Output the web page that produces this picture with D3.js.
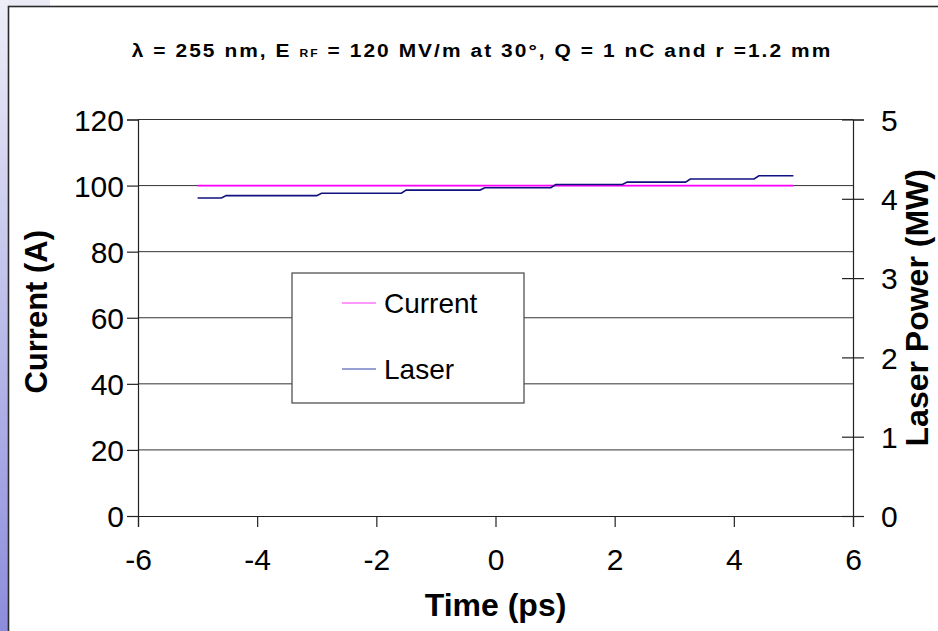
<!DOCTYPE html>
<html>
<head>
<meta charset="utf-8">
<script src="https://cdn.jsdelivr.net/npm/d3@7/dist/d3.min.js"></script>
<style>
  html, body { margin: 0; padding: 0; background: #fff; }
  svg { display: block; }
  text { font-family: "Liberation Sans", Arial, sans-serif; fill: #000; }
</style>
</head>
<body>
<svg id="chart" width="938" height="631"></svg>
<script>
// Beam current (A) against time (ps)
const currentTime = [-5, 5];
const currentValues = [100, 100];

// Laser power (MW) against time (ps): a slowly rising staircase
const laserTime = [-5.00, -4.60, -4.52, -3.00, -2.92, -1.58, -1.50, -0.26, -0.18,
                   0.93, 1.01, 2.13, 2.21, 3.19, 3.27, 4.34, 4.42, 5.00];
const laserValues = [4.01, 4.01, 4.04, 4.04, 4.07, 4.07, 4.11, 4.11, 4.14,
                     4.14, 4.18, 4.18, 4.21, 4.21, 4.25, 4.25, 4.29, 4.29];

const xTicks = [-6, -4, -2, 0, 2, 4, 6];
const yLeftTicks = [0, 20, 40, 60, 80, 100, 120];
const yRightTicks = [0, 1, 2, 3, 4, 5];
const seriesNames = ["Current", "Laser"];
const seriesColors = ["#ff00ff", "#101080"];

const svg = d3.select("#chart");

// slide-style frame with a shaded left edge
const defs = svg.append("defs");
const grad = defs.append("linearGradient").attr("id", "edge")
  .attr("x1", 0).attr("y1", 0).attr("x2", 0).attr("y2", 1);
grad.append("stop").attr("offset", "0%").attr("stop-color", "#eeeef8");
grad.append("stop").attr("offset", "100%").attr("stop-color", "#8c8cdc");
svg.append("rect").attr("x", 0).attr("y", 0).attr("width", 50).attr("height", 6).attr("fill", "#ebebf6");
svg.append("rect").attr("x", 0).attr("y", 0).attr("width", 8).attr("height", 631).attr("fill", "url(#edge)");
svg.append("rect").attr("x", 8.5).attr("y", 6.5).attr("width", 1000).attr("height", 1000)
  .attr("fill", "#fff").attr("stroke", "#2a2a2a").attr("stroke-width", 1.6);

const plotLeft = 138, plotRight = 853, plotTop = 119.5, plotBottom = 516;
const x = d3.scaleLinear().domain([-6, 6]).range([plotLeft, plotRight]);
const yL = d3.scaleLinear().domain([0, 120]).range([plotBottom, plotTop]);
const yR = d3.scaleLinear().domain([0, 5]).range([plotBottom, plotTop]);
const plain = d => String(d);

// horizontal gridlines
svg.append("g").selectAll("line").data(yLeftTicks.filter(d => d > 0)).join("line")
  .attr("x1", plotLeft).attr("x2", plotRight)
  .attr("y1", d => yL(d)).attr("y2", d => yL(d))
  .attr("stroke", "#333").attr("stroke-width", 1);

// x axis
const gx = svg.append("g").attr("transform", `translate(0,${plotBottom})`)
  .call(d3.axisBottom(x).tickValues(xTicks).tickSize(11).tickPadding(22).tickFormat(plain));
// left axis
const gl = svg.append("g").attr("transform", `translate(${plotLeft},0)`)
  .call(d3.axisLeft(yL).tickValues(yLeftTicks).tickSize(11).tickPadding(3).tickFormat(plain));
// right axis (ticks cross the line)
const gr = svg.append("g").attr("transform", `translate(${plotRight},0)`)
  .call(d3.axisRight(yR).tickValues(yRightTicks).tickSize(11).tickPadding(17).tickFormat(plain));
gr.selectAll(".tick line").attr("x1", -11);

[gx, gl, gr].forEach(g => {
  g.select(".domain").attr("stroke", "#222").attr("stroke-width", 1.2);
  g.selectAll(".tick line").attr("stroke", "#222").attr("stroke-width", 1.2);
  g.selectAll(".tick text").style("font-family", '"Liberation Sans", Arial, sans-serif')
    .style("font-size", "30px").attr("fill", "#000");
});
gx.selectAll(".tick text").attr("dy", "0.71em");
gl.selectAll(".tick text").attr("dy", "0.36em");
gr.selectAll(".tick text").attr("dy", "0.36em");

// series
const lineCur = d3.line().x(d => x(d[0])).y(d => yL(d[1]));
const lineLas = d3.line().x(d => x(d[0])).y(d => yR(d[1]));
svg.append("path").datum(d3.zip(currentTime, currentValues)).attr("d", lineCur)
  .attr("fill", "none").attr("stroke", seriesColors[0]).attr("stroke-width", 1.6);
svg.append("path").datum(d3.zip(laserTime, laserValues)).attr("d", lineLas)
  .attr("fill", "none").attr("stroke", seriesColors[1]).attr("stroke-width", 1.6);

// title: slightly widened bold face
const titleG = svg.append("g").attr("transform", "translate(481,57) scale(1.1,1)");
const title = titleG.append("text").attr("x", 0).attr("y", 0).attr("text-anchor", "middle")
  .attr("textLength", 635).attr("lengthAdjust", "spacing")
  .style("font-size", "19px").style("font-weight", "bold");
title.append("tspan").text("λ = 255 nm, E ");
title.append("tspan").style("font-size", "11px").text("RF");
title.append("tspan").text(" = 120 MV/m at 30°, Q = 1 nC and r =1.2 mm");

// axis titles
svg.append("text").attr("x", x(0)).attr("y", 616).attr("text-anchor", "middle")
  .style("font-size", "32px").style("font-weight", "bold").text("Time (ps)");
svg.append("text").attr("transform", `translate(47,${(plotTop + plotBottom) / 2 - 6}) rotate(-90)`)
  .attr("text-anchor", "middle").style("font-size", "31px").style("font-weight", "bold").text("Current (A)");
svg.append("text").attr("transform", `translate(928,${(plotTop + plotBottom) / 2 - 10}) rotate(-90)`)
  .attr("text-anchor", "middle").style("font-size", "32px").style("font-weight", "bold").text("Laser Power (MW)");

// legend
const lg = svg.append("g").attr("transform", "translate(292,273)");
lg.append("rect").attr("width", 232).attr("height", 130).attr("fill", "#fff")
  .attr("stroke", "#444").attr("stroke-width", 1.2);
seriesNames.forEach((name, i) => {
  const yy = 30 + i * 66;
  lg.append("line").attr("x1", 50).attr("x2", 84).attr("y1", yy).attr("y2", yy)
    .attr("stroke", i === 0 ? "#ff33ff" : "#3344aa").attr("stroke-width", 1.2);
  lg.append("text").attr("x", 92).attr("y", yy).attr("dy", "0.36em")
    .style("font-size", "28px").text(name);
});
</script>
</body>
</html>
